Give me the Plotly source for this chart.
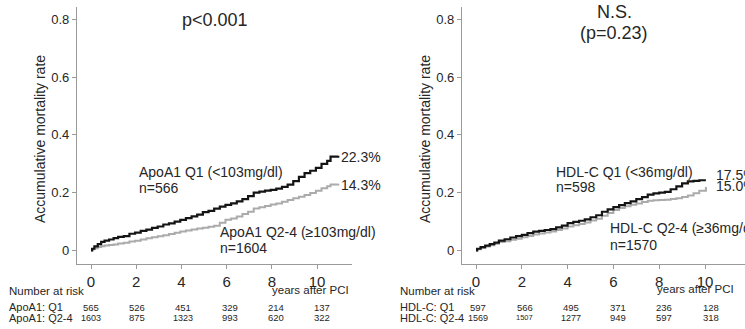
import plotly.graph_objects as go

W, H = 745, 329

# ---------------- data ----------------
apo_t = [0, 0.05, 0.15, 0.3, 0.45, 0.6, 0.8, 1.0, 1.2, 1.45, 1.7, 1.95, 2.2, 2.45, 2.7, 2.95, 3.2, 3.45,
         3.7, 3.95, 4.2, 4.45, 4.7, 4.95, 5.2, 5.45, 5.7, 5.95, 6.2, 6.45, 6.7, 6.95, 7.2, 7.45, 7.7, 7.95,
         8.2, 8.45, 8.7, 8.95, 9.2, 9.45, 9.7, 9.95, 10.2, 10.45, 10.6, 10.94]
apo_q1_y = [0, 0.006, 0.014, 0.022, 0.030, 0.034, 0.038, 0.043, 0.047, 0.050, 0.058, 0.062, 0.068, 0.072,
            0.078, 0.083, 0.090, 0.094, 0.100, 0.106, 0.112, 0.118, 0.124, 0.133, 0.137, 0.145, 0.152,
            0.158, 0.163, 0.170, 0.178, 0.188, 0.200, 0.204, 0.207, 0.210, 0.214, 0.220, 0.228, 0.240,
            0.255, 0.268, 0.276, 0.286, 0.300, 0.310, 0.325, 0.328]
apo_q24_y = [0, 0.004, 0.008, 0.012, 0.015, 0.017, 0.019, 0.021, 0.024, 0.027, 0.031, 0.034, 0.038, 0.042,
             0.046, 0.049, 0.053, 0.057, 0.061, 0.066, 0.069, 0.073, 0.076, 0.079, 0.082, 0.086, 0.096,
             0.106, 0.111, 0.118, 0.126, 0.134, 0.145, 0.150, 0.154, 0.159, 0.163, 0.169, 0.175, 0.181,
             0.186, 0.192, 0.199, 0.207, 0.215, 0.222, 0.228, 0.231]

hdl_t = [0, 0.05, 0.2, 0.4, 0.6, 0.8, 1.0, 1.25, 1.5, 1.75, 2.0, 2.25, 2.5, 2.75, 3.0, 3.25, 3.5, 3.75,
         4.0, 4.25, 4.5, 4.75, 5.0, 5.25, 5.5, 5.75, 6.0, 6.25, 6.5, 6.75, 7.0, 7.25, 7.5, 7.75, 8.0, 8.25,
         8.5, 8.75, 9.0, 9.25, 9.5, 9.75, 10.04]
hdl_q1_y = [0, 0.006, 0.012, 0.017, 0.022, 0.027, 0.034, 0.039, 0.045, 0.050, 0.054, 0.060, 0.065, 0.068,
            0.071, 0.074, 0.080, 0.086, 0.095, 0.099, 0.103, 0.108, 0.115, 0.122, 0.134, 0.142, 0.150,
            0.157, 0.164, 0.170, 0.178, 0.185, 0.193, 0.198, 0.200, 0.203, 0.212, 0.222, 0.232, 0.239,
            0.241, 0.243, 0.243]
hdl_q24_y = [0, 0.004, 0.009, 0.014, 0.018, 0.023, 0.029, 0.032, 0.037, 0.041, 0.046, 0.050, 0.055, 0.059,
             0.062, 0.066, 0.071, 0.076, 0.083, 0.087, 0.092, 0.097, 0.104, 0.110, 0.120, 0.130, 0.140,
             0.147, 0.153, 0.158, 0.163, 0.168, 0.172, 0.174, 0.175, 0.176, 0.178, 0.181, 0.185, 0.190,
             0.198, 0.207, 0.220]

risk_times = [0, 2, 4, 6, 8, 10]
apo_risk_q1 = [565, 526, 451, 329, 214, 137]
apo_risk_q24 = [1603, 875, 1323, 993, 620, 322]
hdl_risk_q1 = [597, 566, 495, 371, 236, 128]
hdl_risk_q24 = [1569, 1507, 1277, 949, 597, 318]

x_ticks = [0, 2, 4, 6, 8, 10]
y_ticks = [0, 0.2, 0.4, 0.6, 0.8]
y_ticklabels = ["0", "0.2", "0.4", "0.6", "0.8"]

# ---------------- figure ----------------
FONT = "Arial, Liberation Sans, Helvetica, sans-serif"
BLACK = "#141414"
GRAY = "#ababab"
AXC = "#9a9a9a"
TXT = "#262626"

fig = go.Figure()
fig.add_trace(go.Scatter(x=apo_t, y=apo_q24_y, mode="lines", line=dict(color=GRAY, width=2, shape="hv"),
                         xaxis="x", yaxis="y", showlegend=False))
fig.add_trace(go.Scatter(x=apo_t, y=apo_q1_y, mode="lines", line=dict(color=BLACK, width=2.2, shape="hv"),
                         xaxis="x", yaxis="y", showlegend=False))
fig.add_trace(go.Scatter(x=hdl_t, y=hdl_q24_y, mode="lines", line=dict(color=GRAY, width=2, shape="hv"),
                         xaxis="x2", yaxis="y2", showlegend=False))
fig.add_trace(go.Scatter(x=hdl_t, y=hdl_q1_y, mode="lines", line=dict(color=BLACK, width=2.2, shape="hv"),
                         xaxis="x2", yaxis="y2", showlegend=False))

ydom = [(H - 264) / H, (H - 7) / H]
yrng = [-(264 - 250.5) / 289.0, (250.5 - 7) / 289.0]

common_x = dict(showline=True, linecolor=AXC, linewidth=1.3, ticks="outside", ticklen=4, tickcolor=AXC,
                tickwidth=1, tickvals=x_ticks, showgrid=False, zeroline=False,
                tickfont=dict(size=15, color=TXT, family=FONT))
common_y = dict(showline=True, linecolor=AXC, linewidth=1.3, ticks="outside", ticklen=4, tickcolor=AXC,
                tickwidth=1, tickvals=y_ticks, ticktext=y_ticklabels, showgrid=False, zeroline=False,
                tickfont=dict(size=13, color=TXT, family=FONT), domain=ydom, range=yrng)

fig.update_layout(
    width=W, height=H, margin=dict(l=0, r=0, t=0, b=0),
    paper_bgcolor="white", plot_bgcolor="white",
    font=dict(family=FONT, color=TXT),
    xaxis=dict(domain=[77 / W, 352 / W], range=[-14 / 22.6, (352 - 91) / 22.6], anchor="y", **common_x),
    yaxis=dict(anchor="x", **common_y),
    xaxis2=dict(domain=[462 / W, 1.0], range=[-14 / 22.9, (745 - 476) / 22.9], anchor="y2", **common_x),
    yaxis2=dict(anchor="x2", **common_y),
)

ann = []


def A(text, x, y, xref, yref, size, xanchor="left", yanchor="middle", **kw):
    ann.append(dict(text=text, x=x, y=y, xref=xref, yref=yref, showarrow=False, xanchor=xanchor,
                    yanchor=yanchor, font=dict(size=size, color=TXT, family=FONT), **kw))


def yd(py):
    return (250.5 - py) / 289.0


def xl(px):
    return (px - 91) / 22.6


def xr(px):
    return (px - 476) / 22.9


def P(px, py):
    return px / W, (H - py) / H


# left panel labels
A("p<0.001", xl(215), yd(20), "x", "y", 18, xanchor="center")
A("ApoA1 Q1 (&lt;103mg/dl)", xl(137), yd(172), "x", "y", 14)
A("n=566", xl(137), yd(188), "x", "y", 14)
A("ApoA1 Q2-4 (≥103mg/dl)", xl(218), yd(232), "x", "y", 14)
A("n=1604", xl(218), yd(248), "x", "y", 14)
A("22.3%", xl(339), yd(157), "x", "y", 14)
A("14.3%", xl(339), yd(185), "x", "y", 14)

# right panel labels
A("N.S.", xr(614), yd(12), "x2", "y2", 18, xanchor="center")
A("(p=0.23)", xr(614), yd(33), "x2", "y2", 18, xanchor="center")
A("HDL-C Q1 (&lt;36mg/dl)", xr(554), yd(172), "x2", "y2", 14)
A("n=598", xr(554), yd(187), "x2", "y2", 14)
A("HDL-C Q2-4 (≥36mg/dl)", xr(608), yd(228), "x2", "y2", 14)
A("n=1570", xr(608), yd(245), "x2", "y2", 14)
A("17.5%", xr(714), yd(175), "x2", "y2", 14)
A("15.0%", xr(714), yd(186), "x2", "y2", 14)

# y-axis titles
for cx in (40, 425):
    px, py = P(cx, 139)
    A("Accumulative mortality rate", px, py, "paper", "paper", 14, xanchor="center", textangle=-90)

# risk tables
for x0, axis, title, rows in (
        (7, "x", "ApoA1", (apo_risk_q1, apo_risk_q24)),
        (398, "x2", "HDL-C", (hdl_risk_q1, hdl_risk_q24))):
    px, py = P(x0, 291)
    A("Number at risk", px, py, "paper", "paper", 11.5)
    px, py = P(x0, 307)
    A(title + ": Q1", px, py, "paper", "paper", 11)
    px, py = P(x0, 317.5)
    A(title + ": Q2-4", px, py, "paper", "paper", 11)
    for vals, rowy in zip(rows, (307, 317.5)):
        for i, (t, v) in enumerate(zip(risk_times, vals)):
            size = 9.5 if v < 1000 else 9
            if v == 1507:
                size = 7.5
            shift = (2 + i * 0.8) if axis == "x2" else i
            ann.append(dict(text=str(v), x=t, y=(H - rowy) / H, xref=axis, yref="paper", showarrow=False,
                            xanchor="center", yanchor="middle", xshift=shift,
                            font=dict(size=size, color=TXT, family=FONT)))

px, py = P(270, 289.5)
A("years after PCI", px, py, "paper", "paper", 11.5)
px, py = P(655, 289)
A("years after PCI", px, py, "paper", "paper", 11.5)

fig.update_layout(annotations=ann)
fig.write_html("out.html", config={"displayModeBar": False},
               post_script="document.body.style.margin='0';document.body.style.overflow='hidden';")
